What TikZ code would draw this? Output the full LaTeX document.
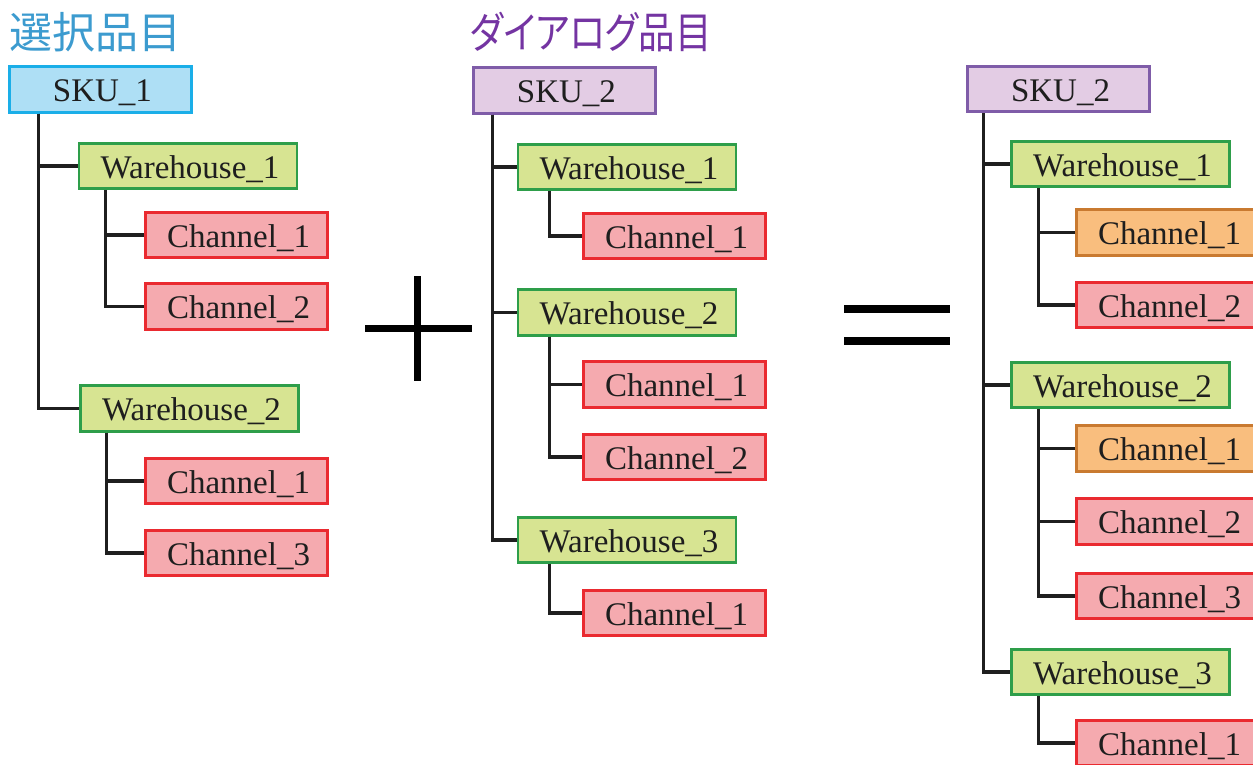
\documentclass[tikz,border=0pt]{standalone}
\usepackage{graphicx}
\usepackage{fontspec}
\setmainfont{Liberation Serif}
\newfontfamily\jpfont[RawFeature=+palt]{Noto Sans CJK JP}
\usetikzlibrary{calc}
\definecolor{skuAfill}{HTML}{AEDFF5}
\definecolor{skuAline}{HTML}{1AAEE8}
\definecolor{skuBfill}{HTML}{E3CCE4}
\definecolor{skuBline}{HTML}{7F5CA8}
\definecolor{whfill}{HTML}{D7E492}
\definecolor{whline}{HTML}{2E9E4A}
\definecolor{chfill}{HTML}{F5AAAF}
\definecolor{chline}{HTML}{EA2A30}
\definecolor{orfill}{HTML}{F9BE7E}
\definecolor{orline}{HTML}{C97A30}
\definecolor{titleA}{HTML}{3C9BCF}
\definecolor{titleB}{HTML}{7434A2}
\definecolor{txt}{HTML}{1E1E1E}
\tikzset{
  boxbase/.style={draw, line width=2.6pt, inner sep=0pt, minimum height=45.5pt,
    text=txt, font=\fontsize{33}{33}\selectfont, text height=26pt, text depth=2pt},
  skuA/.style={boxbase, fill=skuAfill, draw=skuAline, minimum width=182pt},
  skuB/.style={boxbase, fill=skuBfill, draw=skuBline, minimum width=182pt},
  whbox/.style={boxbase, fill=whfill, draw=whline, minimum width=218pt},
  chbox/.style={boxbase, fill=chfill, draw=chline, minimum width=182pt},
  orbox/.style={boxbase, fill=orfill, draw=orline, minimum width=182pt},
  conn/.style={line width=3.2pt, draw=black!88},
  opline/.style={line width=7.5pt, draw=black},
  titlestyle/.style={inner sep=0pt, anchor=west, font=\jpfont\fontsize{43}{43}\selectfont}
}
\newcommand{\bt}[1]{\hspace*{4pt}#1}
\begin{document}
\begin{tikzpicture}[x=1pt,y=-1pt]
\useasboundingbox (0,0) rectangle (1253,764);
\clip (0,0) rectangle (1253,764);
% titles
\node[titlestyle, text=titleA] (tA) at (9,32) {選択品目};
\node[titlestyle, text=titleB] (tB) at (470,32) {\scalebox{0.85}[1]{ダイアログ品目}};
% left tree
\node[skuA] (s1) at (100.5,89.5) {\bt{SKU\_1}};
\node[whbox] (Lw1) at (188,166) {\bt{Warehouse\_1}};
\node[chbox] (Lc11) at (236.5,235) {\bt{Channel\_1}};
\node[chbox] (Lc12) at (236.5,306.5) {\bt{Channel\_2}};
\node[whbox] (Lw2) at (189.5,408.5) {\bt{Warehouse\_2}};
\node[chbox] (Lc21) at (236.5,481) {\bt{Channel\_1}};
\node[chbox] (Lc23) at (236.5,553) {\bt{Channel\_3}};
\draw[conn] ([xshift=30pt]s1.south west) |- (Lw1.west);
\draw[conn] ([xshift=30pt]s1.south west) |- (Lw2.west);
\draw[conn] ([xshift=28pt]Lw1.south west) |- (Lc11.west);
\draw[conn] ([xshift=28pt]Lw1.south west) |- (Lc12.west);
\draw[conn] ([xshift=27pt]Lw2.south west) |- (Lc21.west);
\draw[conn] ([xshift=27pt]Lw2.south west) |- (Lc23.west);
% plus
\coordinate (pL) at (365,328.5); \coordinate (pR) at (472,328.5);
\coordinate (pT) at (417.5,276); \coordinate (pB) at (417.5,381);
\draw[opline] (pL) -- (pR);
\draw[opline] (pT) -- (pB);
% middle tree
\node[skuB] (s2) at (564.5,90.5) {\bt{SKU\_2}};
\node[whbox] (Mw1) at (627,167) {\bt{Warehouse\_1}};
\node[chbox] (Mc11) at (674.5,236) {\bt{Channel\_1}};
\node[whbox] (Mw2) at (627,312.5) {\bt{Warehouse\_2}};
\node[chbox] (Mc21) at (674.5,384.5) {\bt{Channel\_1}};
\node[chbox] (Mc22) at (674.5,457) {\bt{Channel\_2}};
\node[whbox] (Mw3) at (627,540) {\bt{Warehouse\_3}};
\node[chbox] (Mc31) at (674.5,613) {\bt{Channel\_1}};
\draw[conn] ([xshift=20pt]s2.south west) |- (Mw1.west);
\draw[conn] ([xshift=20pt]s2.south west) |- (Mw2.west);
\draw[conn] ([xshift=20pt]s2.south west) |- (Mw3.west);
\draw[conn] ([xshift=33pt]Mw1.south west) |- (Mc11.west);
\draw[conn] ([xshift=33pt]Mw2.south west) |- (Mc21.west);
\draw[conn] ([xshift=33pt]Mw2.south west) |- (Mc22.west);
\draw[conn] ([xshift=33pt]Mw3.south west) |- (Mc31.west);
% equals
\coordinate (e1L) at (844,309); \coordinate (e1R) at (950,309);
\coordinate (e2L) at (844,341); \coordinate (e2R) at (950,341);
\draw[opline] (e1L) -- (e1R);
\draw[opline] (e2L) -- (e2R);
% right tree
\node[skuB] (s3) at (1058.5,89) {\bt{SKU\_2}};
\node[whbox] (Rw1) at (1120.5,164) {\bt{Warehouse\_1}};
\node[orbox] (Rc11) at (1167.5,232.5) {\bt{Channel\_1}};
\node[chbox] (Rc12) at (1167.5,305) {\bt{Channel\_2}};
\node[whbox] (Rw2) at (1120.5,385) {\bt{Warehouse\_2}};
\node[orbox] (Rc21) at (1167.5,448.5) {\bt{Channel\_1}};
\node[chbox] (Rc22) at (1167.5,521.5) {\bt{Channel\_2}};
\node[chbox] (Rc23) at (1167.5,596) {\bt{Channel\_3}};
\node[whbox] (Rw3) at (1120.5,672) {\bt{Warehouse\_3}};
\node[chbox] (Rc31) at (1167.5,743) {\bt{Channel\_1}};
\draw[conn] ([xshift=17pt]s3.south west) |- (Rw1.west);
\draw[conn] ([xshift=17pt]s3.south west) |- (Rw2.west);
\draw[conn] ([xshift=17pt]s3.south west) |- (Rw3.west);
\draw[conn] ([xshift=28pt]Rw1.south west) |- (Rc11.west);
\draw[conn] ([xshift=28pt]Rw1.south west) |- (Rc12.west);
\draw[conn] ([xshift=28pt]Rw2.south west) |- (Rc21.west);
\draw[conn] ([xshift=28pt]Rw2.south west) |- (Rc22.west);
\draw[conn] ([xshift=28pt]Rw2.south west) |- (Rc23.west);
\draw[conn] ([xshift=28pt]Rw3.south west) |- (Rc31.west);
\end{tikzpicture}
\end{document}
